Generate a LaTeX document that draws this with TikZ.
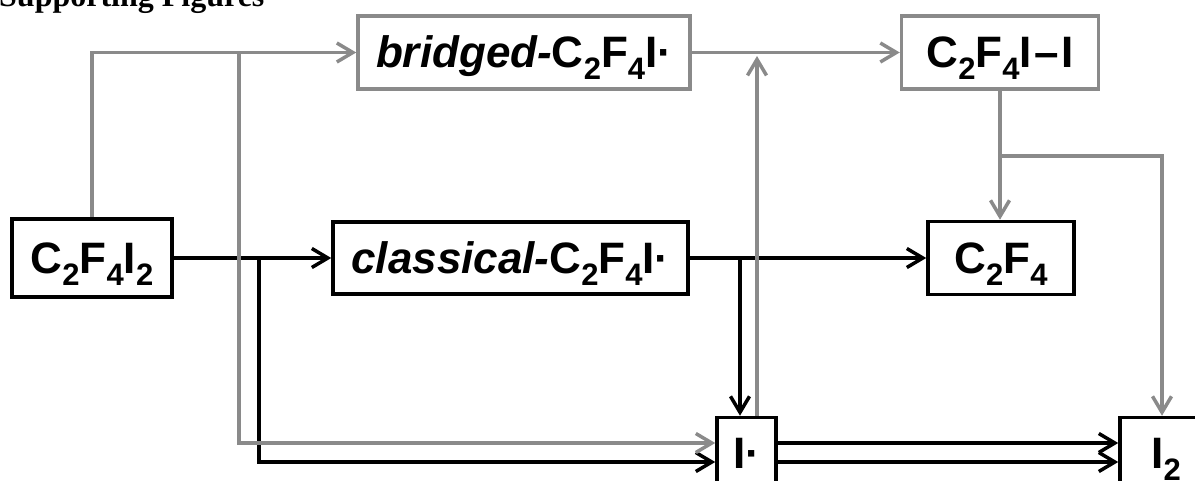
\documentclass[tikz,border=0pt]{standalone}
\usepackage{fontspec}
\setmainfont{Liberation Sans}
\newfontfamily\headfont{Liberation Serif}
\usetikzlibrary{arrows.meta}
% chemical subscript that does not change the line's height or depth
\newcommand\chsub[1]{\raisebox{-12pt}[0pt][0pt]{\fontsize{31}{31}\selectfont #1}}
\definecolor{linegray}{RGB}{138,138,138}
\begin{document}
\begin{tikzpicture}[x=1pt,y=-1pt,
  >={Straight Barb[length=16pt,width=19pt]},
  gl/.style={draw=linegray,line width=3.5pt},
  bl/.style={draw=black,line width=3.5pt},
  species/.style={line width=3.5pt,fill=white,inner sep=0pt,
    text height=31pt,text depth=0pt,
    font=\fontsize{44}{50}\selectfont\bfseries},
  graybox/.style={species,draw=linegray},
  blackbox/.style={species,draw=black}]
\clip (0,0) rectangle (1195,481);

\node[anchor=base west,inner sep=0pt,
  font=\headfont\bfseries\fontsize{32}{36}\selectfont] (head) at (-1,7) {Supporting Figures};

% species
\node[blackbox,minimum width=160pt,minimum height=78pt] (c2f4i2) at (92,258)
  {C\chsub{2}F\chsub{4}I\chsub{2}};
\node[graybox,minimum width=332pt,minimum height=73pt] (bridged) at (524,52.5)
  {\textit{bridged-}C\chsub{2}F\chsub{4}I·};
\node[graybox,minimum width=197pt,minimum height=73pt] (c2f4ii) at (1000,52.5)
  {C\chsub{2}F\chsub{4}I\kern2.5pt–\kern2.5pt I};
\node[blackbox,minimum width=355pt,minimum height=72pt] (classical) at (510.5,258)
  {\textit{classical-}C\chsub{2}F\chsub{4}I·};
\node[blackbox,minimum width=146pt,minimum height=73pt] (c2f4) at (1001,258)
  {C\chsub{2}F\chsub{4}};
\node[blackbox,minimum width=59pt,minimum height=70pt] (irad) at (746.5,452.5) {I·};
\node[blackbox,minimum width=92pt,minimum height=70pt] (itwo) at (1166,452.5) {I\chsub{2}};

% junctions
\coordinate (bsplit) at (259,258);
\coordinate (csplit) at (740,258);
\coordinate (gsplit) at (239,52.5);
\coordinate (gup) at (757,56);
\coordinate (isplit) at (1000,156);
\coordinate (gdown) at (1162,156);

% classical (black) channel
\draw[bl,->] (c2f4i2) -- (classical);
\draw[bl,->] (bsplit) |- ([yshift=-9.5pt]irad.west);
\draw[bl,->] (classical) -- (classical -| c2f4.west);
\draw[bl,->] (csplit) -- (csplit |- irad.north);
\draw[bl,->] ([yshift=9.5pt]irad.east) -- ([yshift=9.5pt]irad.east -| itwo.west);
\draw[bl,->] ([yshift=-9.5pt]irad.east) -- ([yshift=-9.5pt]irad.east -| itwo.west);

% bridged (gray) channel
\draw[gl,->] (c2f4i2.north) |- (bridged.west);
\draw[gl,->] (gsplit) |- ([yshift=9.5pt]irad.west);
\draw[gl,->] (bridged) -- (c2f4ii);
\draw[gl,->] (irad.north -| gup) -- (gup);
\draw[gl,->] (c2f4ii.south) -- (c2f4ii.south |- c2f4.north);
\draw[gl,->] (isplit) -| (gdown |- itwo.north);
\end{tikzpicture}
\end{document}
